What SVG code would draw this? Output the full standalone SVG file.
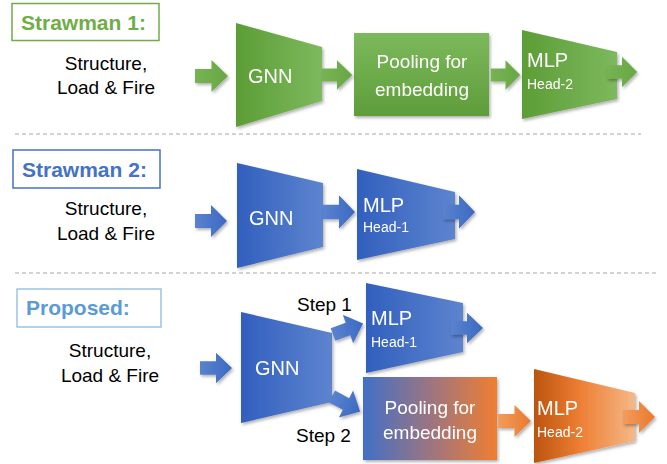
<svg xmlns="http://www.w3.org/2000/svg" width="667" height="464" viewBox="0 0 667 464">
<defs>
<style>
.lbl{font-family:"Liberation Sans",Arial,sans-serif;font-size:19px;fill:#000}
.ttl{font-family:"Liberation Sans",Arial,sans-serif;font-size:21px;font-weight:bold}
.w{font-family:"Liberation Sans",Arial,sans-serif;fill:#fff}
.big{font-size:20px}
.sm{font-size:14px}
.dash{stroke:#a6a6a6;stroke-width:1.2;stroke-dasharray:4 3;fill:none}
</style>
<filter id="sh" x="-20%" y="-20%" width="150%" height="150%">
<feDropShadow dx="1.5" dy="2" stdDeviation="1.5" flood-color="#000" flood-opacity="0.3"/>
</filter>
<linearGradient id="gG" x1="0" y1="0" x2="1" y2="0"><stop offset="0" stop-color="#5c9d35"/><stop offset="1" stop-color="#7db95e"/></linearGradient>
<linearGradient id="gGv" x1="0" y1="0" x2="0" y2="1"><stop offset="0" stop-color="#7cb95c"/><stop offset="1" stop-color="#5f9d3a"/></linearGradient>
<linearGradient id="gGa" x1="0" y1="0" x2="1" y2="0"><stop offset="0" stop-color="#76b353"/><stop offset="1" stop-color="#69a745"/></linearGradient>
<linearGradient id="gB" x1="0" y1="0" x2="1" y2="0"><stop offset="0" stop-color="#315fbd"/><stop offset="1" stop-color="#5d84cf"/></linearGradient>
<linearGradient id="gBa" x1="0" y1="0" x2="1" y2="0"><stop offset="0" stop-color="#5a83cf"/><stop offset="1" stop-color="#3b69c2"/></linearGradient>
<linearGradient id="gO" x1="0" y1="0" x2="1" y2="0"><stop offset="0" stop-color="#bb540f"/><stop offset="0.45" stop-color="#ed7e33"/><stop offset="1" stop-color="#f5b887"/></linearGradient>
<linearGradient id="gOa" x1="0" y1="0" x2="1" y2="0"><stop offset="0" stop-color="#f29c5c"/><stop offset="1" stop-color="#e97a2e"/></linearGradient>
<linearGradient id="gM" x1="0" y1="0" x2="1" y2="0"><stop offset="0" stop-color="#4170c6"/><stop offset="0.5" stop-color="#9b7580"/><stop offset="1" stop-color="#ef7e32"/></linearGradient>
<path id="arr" d="M-16,-7 H0 V-16 L16,0 L0,16 V7 H-16 Z"/>
</defs>

<!-- separators -->
<line class="dash" x1="15" y1="134" x2="641" y2="134"/>
<line class="dash" x1="15" y1="273" x2="658" y2="273"/>

<!-- Strawman 1 -->
<g id="title1">
<rect x="12" y="3.5" width="147" height="37" fill="#fff" stroke="#70ad47" stroke-width="1.5"/>
<text class="ttl" x="21" y="30" fill="#70ad47">Strawman 1:</text>
</g>
<g id="input1">
<text class="lbl" x="106" y="70" text-anchor="middle">Structure,</text>
<text class="lbl" x="106" y="94" text-anchor="middle">Load &amp; Fire</text>
</g>
<g id="gnn1" filter="url(#sh)">
<path d="M236,23 L322,47 L322,101 L236,127 Z" fill="url(#gG)"/>
<text class="w big" x="248" y="83">GNN</text>
</g>
<g id="pool1" filter="url(#sh)">
<rect x="354" y="33" width="135" height="83" fill="url(#gGv)"/>
<text class="w" font-size="19" x="422" y="68" text-anchor="middle">Pooling for</text>
<text class="w" font-size="19" x="422" y="96" text-anchor="middle">embedding</text>
</g>
<g id="mlp1" filter="url(#sh)">
<path d="M522,30 L617,52 L617,99 L522,119 Z" fill="url(#gG)"/>
<text class="w big" x="527" y="67">MLP</text>
<text class="w sm" x="527" y="89">Head-2</text>
</g>

<!-- Strawman 2 -->
<g id="title2">
<rect x="13" y="150" width="147" height="38" fill="#fff" stroke="#4472c4" stroke-width="1.5"/>
<text class="ttl" x="22" y="177" fill="#4472c4">Strawman 2:</text>
</g>
<g id="input2">
<text class="lbl" x="106" y="215" text-anchor="middle">Structure,</text>
<text class="lbl" x="106" y="240" text-anchor="middle">Load &amp; Fire</text>
</g>
<g id="gnn2" filter="url(#sh)">
<path d="M237,163 L323,183 L323,247 L237,268 Z" fill="url(#gB)"/>
<text class="w big" x="249" y="225">GNN</text>
</g>
<g id="mlp2" filter="url(#sh)">
<path d="M357,169 L455,192 L455,239 L357,260 Z" fill="url(#gB)"/>
<text class="w big" x="363" y="212">MLP</text>
<text class="w sm" x="363" y="232">Head-1</text>
</g>

<!-- Proposed -->
<g id="title3">
<rect x="17" y="289" width="144" height="38" fill="#fff" stroke="#9dc3e6" stroke-width="1.5"/>
<text class="ttl" x="26" y="315" fill="#5b9bd5">Proposed:</text>
</g>
<g id="input3">
<text class="lbl" x="110" y="357" text-anchor="middle">Structure,</text>
<text class="lbl" x="110" y="382" text-anchor="middle">Load &amp; Fire</text>
</g>
<g id="gnn3" filter="url(#sh)">
<path d="M241,312 L332,333 L332,402 L241,423 Z" fill="url(#gB)"/>
<text class="w big" x="255" y="375">GNN</text>
</g>
<g id="step1"><text class="lbl" font-size="18" x="297" y="311">Step 1</text></g>
<g id="step2"><text class="lbl" font-size="18" x="296" y="442">Step 2</text></g>
<g id="mlp3" filter="url(#sh)">
<path d="M366,283 L463,303 L463,352 L366,373 Z" fill="url(#gB)"/>
<text class="w big" x="371" y="325">MLP</text>
<text class="w sm" x="371" y="347">Head-1</text>
</g>
<g id="pool3" filter="url(#sh)">
<rect x="363" y="377" width="134" height="83" fill="url(#gM)"/>
<text class="w" font-size="19" x="430" y="414" text-anchor="middle">Pooling for</text>
<text class="w" font-size="19" x="430" y="439" text-anchor="middle">embedding</text>
</g>
<g id="mlp4" filter="url(#sh)">
<path d="M534,369 L635,393 L635,441 L534,463 Z" fill="url(#gO)"/>
<text class="w big" x="537" y="415">MLP</text>
<text class="w sm" x="537" y="437">Head-2</text>
</g>

<!-- connectors -->
<g id="connectors" filter="url(#sh)">
<use href="#arr" fill="url(#gGa)" transform="translate(211.5,76) scale(1.03,1)"/>
<use href="#arr" fill="url(#gGa)" transform="translate(337,75) scale(0.95,0.92)"/>
<use href="#arr" fill="url(#gGa)" transform="translate(505.5,75) scale(0.92,0.92)"/>
<use href="#arr" fill="url(#gGa)" transform="translate(622,72) scale(0.95,0.95)"/>
<use href="#arr" fill="url(#gBa)" transform="translate(211,221) scale(1,1)"/>
<use href="#arr" fill="url(#gBa)" transform="translate(339,212) scale(1,1.05)"/>
<use href="#arr" fill="url(#gBa)" transform="translate(459,212) scale(1,1.05)"/>
<use href="#arr" fill="url(#gBa)" transform="translate(216,368) scale(1,0.95)"/>
<use href="#arr" fill="url(#gBa)" transform="translate(348,329) rotate(-20) scale(1,0.95)"/>
<use href="#arr" fill="url(#gBa)" transform="translate(346,404) rotate(28) scale(1,0.95)"/>
<use href="#arr" fill="url(#gBa)" transform="translate(467,328) scale(1,0.95)"/>
<use href="#arr" fill="url(#gOa)" transform="translate(514.5,421) scale(1.03,1)"/>
<use href="#arr" fill="url(#gOa)" transform="translate(639,417) scale(1,1)"/>
</g>
</svg>
